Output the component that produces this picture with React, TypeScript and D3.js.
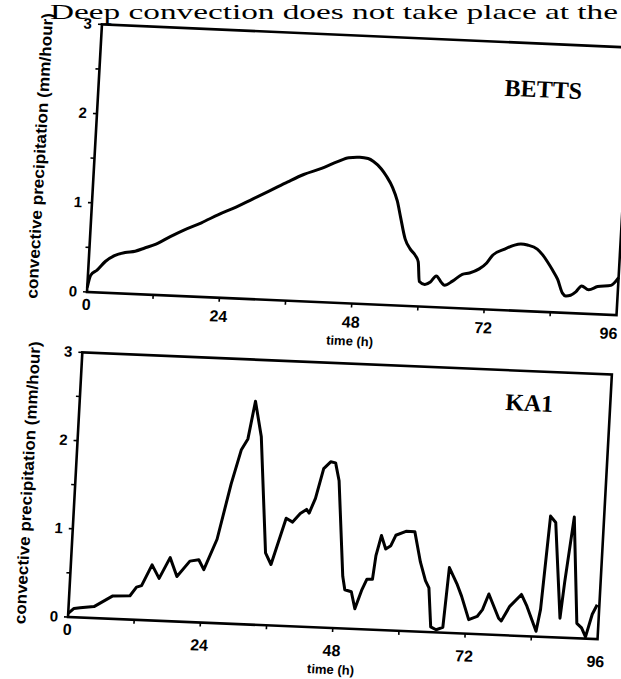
import * as d3 from 'd3'

// BETTS run, hours and convective precipitation (mm/hour)
const bettsHours = [0, 0.5, 1.6, 3, 4.6, 6.5, 8.3, 10, 12, 14.5, 16.9, 20, 23, 26, 29, 32, 35.2, 38, 41.3, 44, 46, 48, 49.5, 50.5, 52, 53, 54.2, 55.2, 56, 57, 58, 59, 59.6, 60, 61, 62, 63, 64, 64.6, 66, 67.7, 69, 70.7, 72, 73, 75, 76.7, 78, 79.2, 81, 82, 83, 84, 85, 86, 86.6, 87.5, 88.4, 89.4, 90.7, 92.3, 94.7, 96]
const bettsValues = [0.05, 0.19, 0.25, 0.35, 0.42, 0.46, 0.48, 0.52, 0.57, 0.66, 0.74, 0.83, 0.93, 1.02, 1.12, 1.22, 1.33, 1.42, 1.5, 1.58, 1.63, 1.64, 1.63, 1.6, 1.52, 1.44, 1.32, 1.17, 0.98, 0.75, 0.64, 0.57, 0.5, 0.28, 0.25, 0.28, 0.35, 0.28, 0.25, 0.3, 0.38, 0.4, 0.45, 0.52, 0.61, 0.68, 0.73, 0.75, 0.74, 0.7, 0.64, 0.56, 0.47, 0.37, 0.22, 0.19, 0.2, 0.24, 0.31, 0.27, 0.31, 0.33, 0.42]

// KA1 run
const ka1Hours = [0, 1, 2.1, 4.6, 7.9, 11, 12.1, 13, 14.7, 16.1, 17.9, 19.3, 21.5, 23.1, 24.1, 26.2, 28.2, 29.7, 30.8, 31.8, 33.2, 35.1, 36.2, 38.5, 39.7, 41, 42.1, 42.6, 43.6, 44.8, 46, 46.9, 47.7, 49.3, 49.8, 51, 51.8, 52.9, 53.7, 54.7, 55.1, 55.9, 56.8, 57.7, 58.5, 60.3, 61.9, 63.2, 64.3, 65, 65.7, 66.7, 67.9, 68.5, 70.1, 71, 72.5, 74, 74.9, 75.9, 77.9, 78.4, 79.8, 81.8, 82.9, 84.8, 85.4, 86.3, 87.3, 89, 89.5, 90.6, 92.1, 93, 93.8, 94.8, 95.6]
const ka1Values = [0.04, 0.1, 0.11, 0.13, 0.26, 0.27, 0.37, 0.39, 0.63, 0.48, 0.72, 0.51, 0.69, 0.71, 0.6, 0.95, 1.58, 1.97, 2.1, 2.53, 2.13, 0.82, 0.69, 1.22, 1.18, 1.28, 1.33, 1.29, 1.46, 1.8, 1.88, 1.87, 1.67, 0.59, 0.44, 0.42, 0.23, 0.45, 0.57, 0.57, 0.84, 1.07, 0.92, 0.96, 1.08, 1.13, 1.13, 0.79, 0.58, 0.5, 0.06, 0.03, 0.06, 0.74, 0.55, 0.42, 0.16, 0.2, 0.28, 0.46, 0.19, 0.16, 0.33, 0.47, 0.34, 0.06, 0.31, 1.37, 1.3, 0.22, 0.63, 1.37, 0.17, 0.12, 0.02, 0.28, 0.39]

const xTicks = [0, 24, 48, 72, 96]
const yTicks = [0, 1, 2, 3]
const yTitle = 'convective precipitation (mm/hour)'
const xTitle = 'time (h)'
const headerText = 'Deep convection does not take place at the'

const sans = '"Liberation Sans", Arial, sans-serif'
const serif = '"Liberation Serif", "Times New Roman", serif'

const rad = (deg: number) => (deg * Math.PI) / 180

interface PanelProps {
  hours: number[]
  values: number[]
  label: string
  labelAt: [number, number]
  ox: number
  oy: number
  w: number
  h: number
  angX: number
  angY: number
  titleX: number
  tickLabelY: number
  smooth: boolean
}

function Panel({ hours, values, label, labelAt, ox, oy, w, h, angX, angY, titleX, tickLabelY, smooth }: PanelProps) {
  const x = d3.scaleLinear().domain([0, 96]).range([0, w])
  const y = d3.scaleLinear().domain([0, 3]).range([0, -h])

  const pts = hours.map((t, i) => [t, values[i]] as [number, number])
  const line = d3.line<[number, number]>()
    .x((d) => x(d[0]))
    .y((d) => y(d[1]))
    .curve(smooth ? d3.curveMonotoneX : d3.curveLinear)

  // the scanned page is slightly rotated / sheared
  const m = `matrix(${Math.cos(rad(angX))},${Math.sin(rad(angX))},${-Math.sin(rad(angY))},${Math.cos(rad(angY))},${ox},${oy})`

  return (
    <g transform={m}>
      <rect x={0} y={-h} width={w} height={h} fill="none" stroke="#000" strokeWidth={2.6} />

      {d3.range(0, 3.01, 0.5).map((v) => (
        <line key={'yt' + v} x1={-4} x2={0} y1={y(v)} y2={y(v)} stroke="#000" strokeWidth={1.6} />
      ))}
      {d3.range(12, 96, 12).map((t) => (
        <line key={'xt' + t} x1={x(t)} x2={x(t)} y1={0} y2={4} stroke="#000" strokeWidth={1.6} />
      ))}

      {yTicks.map((v) => (
        <text key={'yl' + v} x={-10} y={y(v) + 5} textAnchor="end" fontFamily={sans} fontWeight="bold" fontSize={15}>
          {v}
        </text>
      ))}
      {xTicks.map((t) => (
        <text
          key={'xl' + t}
          x={t === 96 ? Math.min(x(t) + 8, 619 - ox) : x(t)}
          y={t === 0 ? 18 : tickLabelY}
          textAnchor={t === 96 ? 'end' : 'middle'}
          fontFamily={sans}
          fontWeight="bold"
          fontSize={16}
        >
          {t}
        </text>
      ))}
      <text x={x(48)} y={tickLabelY + 18} textAnchor="middle" fontFamily={sans} fontWeight="bold" fontSize={13}>
        {xTitle}
      </text>

      <text
        transform={`translate(${titleX},${-h / 2}) rotate(-90)`}
        textAnchor="middle"
        dy="0.35em"
        fontFamily={sans}
        fontWeight="bold"
        fontSize={16}
        textLength={h + 18}
        lengthAdjust="spacingAndGlyphs"
      >
        {yTitle}
      </text>

      <text x={x(labelAt[0])} y={y(labelAt[1])} fontFamily={serif} fontWeight="bold" fontSize={24}>
        {label}
      </text>

      <path d={line(pts) ?? ''} fill="none" stroke="#000" strokeWidth={3} strokeLinejoin="round" />
    </g>
  )
}

export default function App() {
  return (
    <svg
      width={621}
      height={679}
      style={{ position: 'absolute', left: 0, top: 0, background: '#fff' }}
    >
      <text
        x={50}
        y={19}
        fontFamily={serif}
        fontSize={22}
        textLength={568}
        lengthAdjust="spacingAndGlyphs"
      >
        {headerText}
      </text>
      <Panel hours={bettsHours} values={bettsValues} label="BETTS" labelAt={[73.5, 2.4]} ox={87} oy={292} w={530} h={268} angX={2.5} angY={3.2} titleX={-55} tickLabelY={24} smooth />
      <Panel hours={ka1Hours} values={ka1Values} label="KA1" labelAt={[77, 2.55]} ox={68} oy={617} w={530} h={265} angX={2.4} angY={3.1} titleX={-48} tickLabelY={28} smooth={false} />
    </svg>
  )
}
